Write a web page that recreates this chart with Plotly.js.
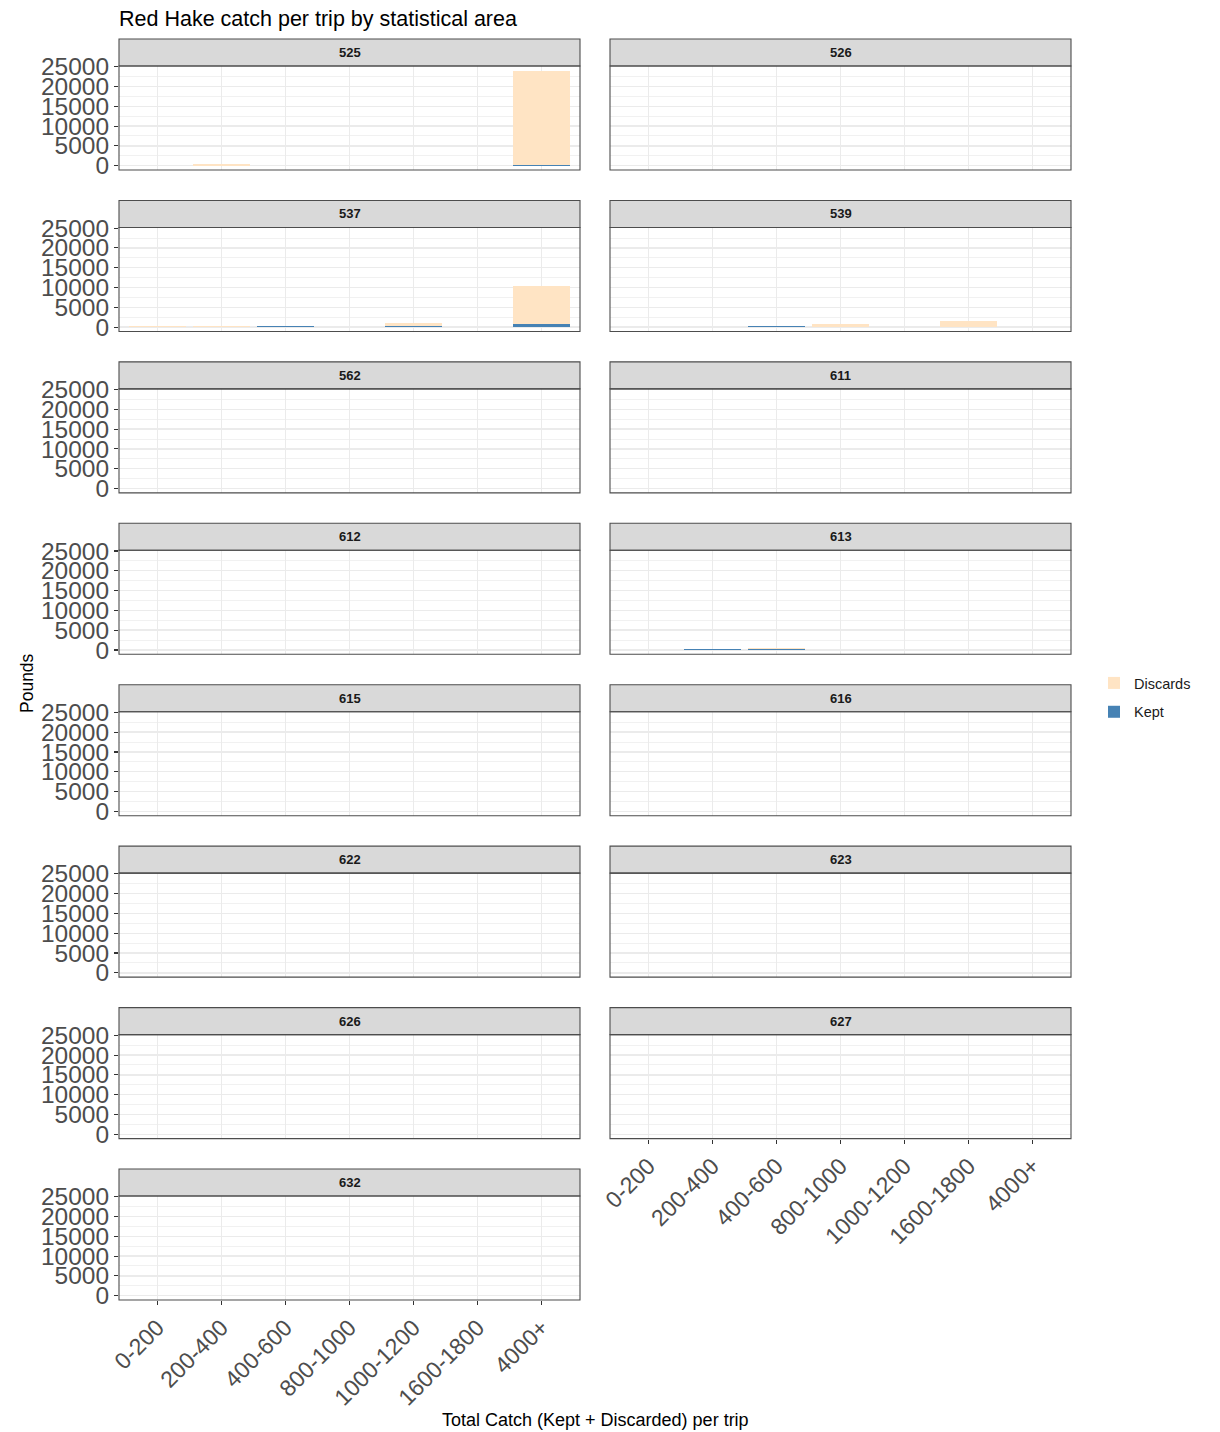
<!DOCTYPE html>
<html>
<head>
<meta charset="utf-8">
<script src="https://cdn.plot.ly/plotly-3.0.1.min.js"></script>
<style>html,body{margin:0;padding:0;background:#fff;}#chart{width:1220px;height:1432px;}</style>
</head>
<body>
<div id="chart"></div>
<script>
// ---- data ----
const categories = ["0-200","200-400","400-600","800-1000","1000-1200","1600-1800","4000+"];
const areas = ["525","526","537","539","562","611","612","613","615","616","622","623","626","627","632"];
// Kept pounds per area (rows follow `areas`, columns follow `categories`)
const kept = [
  [0, 30, 0, 0, 0, 0, 250],
  [0, 0, 0, 0, 0, 0, 0],
  [0, 80, 150, 0, 200, 0, 700],
  [0, 80, 150, 100, 0, 60, 0],
  [0, 0, 0, 0, 0, 0, 0],
  [0, 0, 0, 0, 0, 0, 0],
  [0, 0, 0, 0, 0, 0, 0],
  [0, 250, 300, 0, 0, 0, 0],
  [0, 0, 0, 0, 0, 0, 0],
  [0, 0, 0, 0, 0, 0, 0],
  [0, 0, 0, 0, 0, 0, 0],
  [0, 0, 0, 0, 0, 0, 0],
  [0, 0, 0, 0, 0, 0, 0],
  [0, 0, 0, 0, 0, 0, 0],
  [0, 0, 0, 0, 0, 0, 0]
];
// Discarded pounds per area
const discards = [
  [0, 420, 0, 0, 0, 0, 23620],
  [0, 0, 0, 0, 0, 0, 0],
  [150, 80, 250, 0, 900, 0, 9800],
  [0, 60, 0, 800, 0, 1600, 0],
  [0, 0, 0, 0, 0, 0, 0],
  [0, 0, 0, 0, 0, 0, 0],
  [0, 0, 0, 0, 0, 0, 0],
  [0, 0, 80, 0, 0, 0, 0],
  [0, 0, 0, 0, 0, 0, 0],
  [0, 150, 0, 0, 0, 0, 0],
  [0, 0, 0, 0, 0, 0, 0],
  [0, 0, 0, 0, 0, 0, 0],
  [0, 0, 0, 0, 0, 0, 0],
  [0, 0, 0, 0, 0, 0, 0],
  [0, 0, 0, 0, 0, 0, 0]
];
const yTicks = [0, 5000, 10000, 15000, 20000, 25000];

// ---- layout geometry ----
const W = 1220, H = 1432;
const colLeft = [119, 610], colRight = [580, 1071];
const firstStripTop = 39, rowStep = 161.43, stripH = 27, panelBottomOff = 131;
const FONT = "Liberation Sans, Arial, Helvetica, sans-serif";
const px = v => v / W, py = v => 1 - v / H;

const traces = [];
const layout = {
  width: W, height: H,
  margin: {l: 0, r: 0, t: 0, b: 0},
  paper_bgcolor: "#ffffff", plot_bgcolor: "#ffffff",
  barmode: "stack", bargap: 0.1,
  font: {family: FONT, color: "#4d4d4d"},
  showlegend: true,
  legend: {x: px(1094), y: py(667), xanchor: "left", yanchor: "top",
           font: {size: 14.5, color: "#1a1a1a", family: FONT}, tracegroupgap: 7,
           itemwidth: 30, bgcolor: "rgba(0,0,0,0)"},
  title: {text: "Red Hake catch per trip by statistical area", xref: "container", yref: "container",
          x: px(119), xanchor: "left", y: py(18), yanchor: "middle",
          font: {size: 21.5, color: "#000000", family: FONT}},
  shapes: [], annotations: [],
  hovermode: false
};

// bottom-most panel in each column gets x tick labels
function isBottom(i) {
  const col = i % 2, row = Math.floor(i / 2);
  return (row + 1) * 2 + col >= areas.length;
}

areas.forEach((area, i) => {
  const col = i % 2, row = Math.floor(i / 2);
  const stripTop = firstStripTop + row * rowStep;
  const panelTop = stripTop + stripH;
  const panelBottom = stripTop + panelBottomOff;
  const sfx = i === 0 ? "" : String(i + 1);
  const xa = "xaxis" + sfx, ya = "yaxis" + sfx;
  const bottom = isBottom(i);

  layout[xa] = {
    domain: [px(colLeft[col]), px(colRight[col])],
    anchor: "y" + sfx, type: "category", range: [-0.6, 6.6],
    categoryorder: "array", categoryarray: categories,
    showgrid: true, gridcolor: "#ebebeb", gridwidth: 1.4,
    zeroline: false, showline: false,
    showticklabels: bottom, ticks: bottom ? "outside" : "", ticklen: 4, tickwidth: 1.1, tickcolor: "#333333",
    tickangle: -45, tickfont: {size: 23, color: "#4d4d4d", family: FONT}, fixedrange: true
  };
  layout[ya] = {
    domain: [py(panelBottom), py(panelTop)],
    anchor: "x" + sfx, range: [-1094, 25170],
    tickmode: "array", tickvals: yTicks, ticktext: yTicks.map(String),
    showgrid: true, gridcolor: "#ebebeb", gridwidth: 1.4,
    minor: {tickmode: "array", tickvals: [2500, 7500, 12500, 17500, 22500], showgrid: true, gridcolor: "#ebebeb", gridwidth: 0.7, ticks: ""},
    zeroline: false, showline: false,
    showticklabels: col === 0, ticks: col === 0 ? "outside" : "", ticklen: 4, tickwidth: 1.1, tickcolor: "#333333",
    tickfont: {size: 24.5, color: "#4d4d4d", family: FONT}, fixedrange: true
  };

  traces.push({
    type: "bar", x: categories, y: kept[i], name: "Kept",
    xaxis: "x" + sfx, yaxis: "y" + sfx, width: 0.9,
    marker: {color: "#4682b4", line: {width: 0}},
    legendgroup: "Kept", legendrank: 2, showlegend: i === 0
  });
  traces.push({
    type: "bar", x: categories, y: discards[i], name: "Discards",
    xaxis: "x" + sfx, yaxis: "y" + sfx, width: 0.9,
    marker: {color: "#ffe4c4", line: {width: 0}},
    legendgroup: "Discards", legendrank: 1, showlegend: i === 0
  });

  // strip
  layout.shapes.push({type: "rect", xref: "paper", yref: "paper", layer: "above",
    x0: px(colLeft[col]), x1: px(colRight[col]), y0: py(panelTop), y1: py(stripTop),
    fillcolor: "#d9d9d9", line: {color: "#4d4d4d", width: 1.1}});
  // panel border
  layout.shapes.push({type: "rect", xref: "paper", yref: "paper", layer: "above",
    x0: px(colLeft[col]), x1: px(colRight[col]), y0: py(panelBottom), y1: py(panelTop),
    fillcolor: "rgba(0,0,0,0)", line: {color: "#4d4d4d", width: 1.1}});
  layout.annotations.push({xref: "paper", yref: "paper", showarrow: false,
    x: px((colLeft[col] + colRight[col]) / 2), y: py(stripTop + stripH / 2),
    xanchor: "center", yanchor: "middle", text: "<b>" + area + "</b>",
    font: {size: 13, color: "#1a1a1a", family: FONT}});
});

// axis titles
layout.annotations.push({xref: "paper", yref: "paper", showarrow: false,
  x: px(595), y: py(1420), xanchor: "center", yanchor: "middle",
  text: "Total Catch (Kept + Discarded) per trip", font: {size: 18, color: "#000000", family: FONT}});
layout.annotations.push({xref: "paper", yref: "paper", showarrow: false,
  x: px(27), y: py(683), xanchor: "center", yanchor: "middle", textangle: -90,
  text: "Pounds", font: {size: 17.5, color: "#000000", family: FONT}});

Plotly.newPlot("chart", traces, layout, {displayModeBar: false, staticPlot: true});
</script>
</body>
</html>
